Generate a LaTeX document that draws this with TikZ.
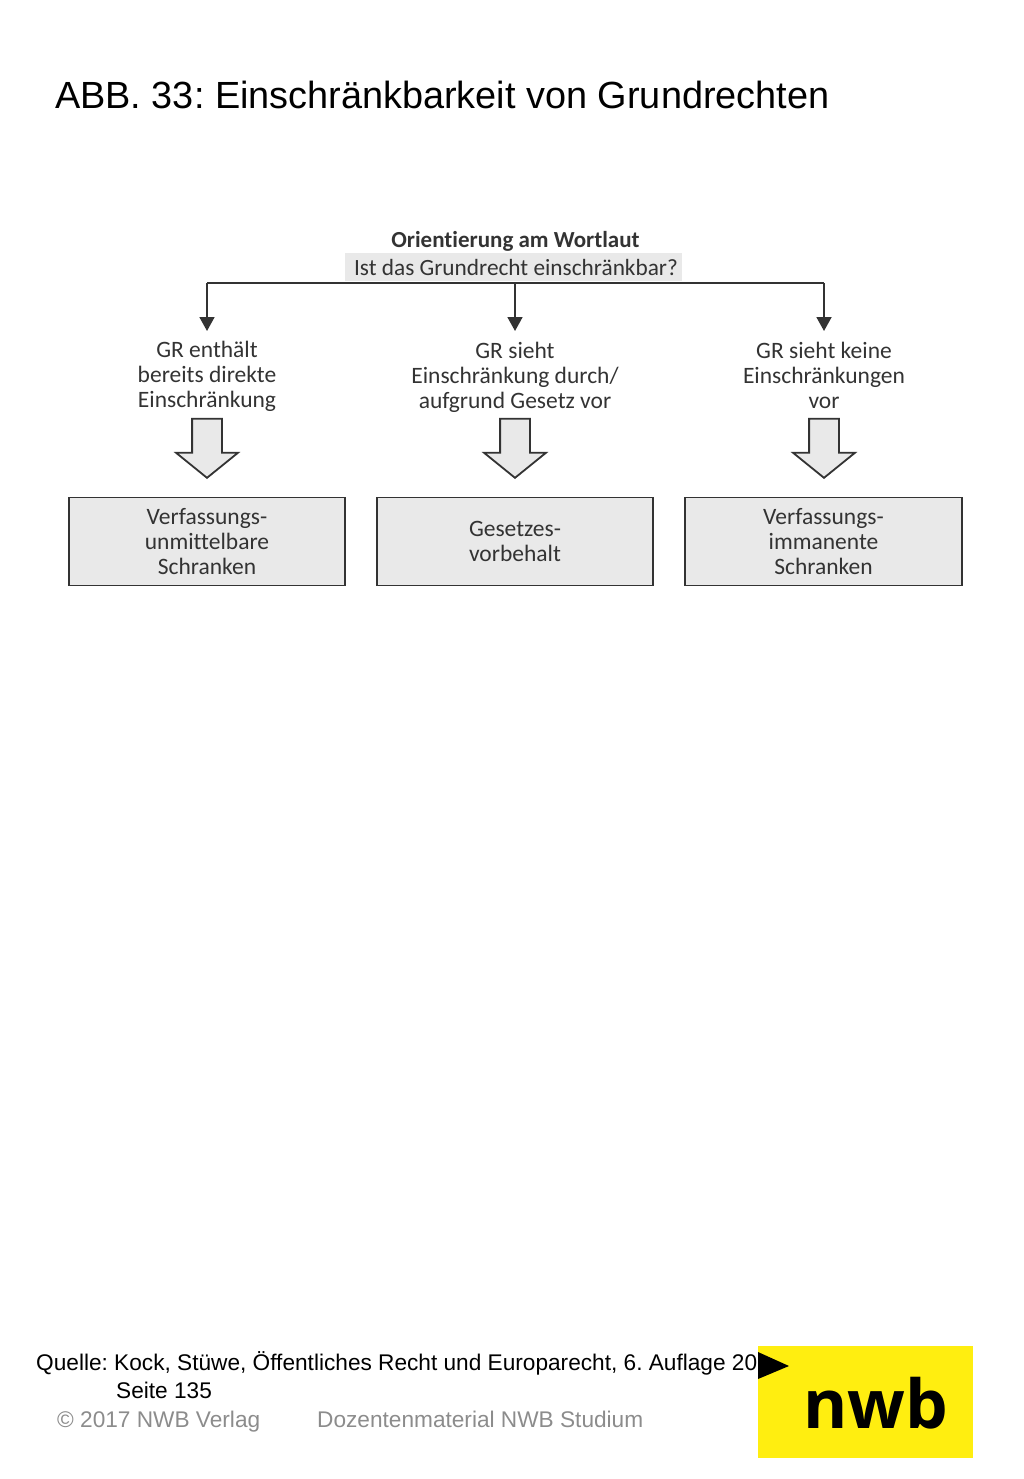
\documentclass[tikz,border=0pt]{standalone}
\usepackage{fontspec}
\setmainfont{Liberation Sans}
\newfontfamily\bookfont[Ligatures=NoCommon]{Carlito}
\newfontfamily\logofont{Open Sans}
\usepackage{xcolor}
\usetikzlibrary{arrows.meta,shapes.arrows}
\definecolor{inkgrey}{HTML}{333333}
\definecolor{boxgrey}{HTML}{E9E9E9}
\definecolor{nwbyellow}{HTML}{FFEE10}
\tikzset{
	plain/.style={anchor=base west,inner sep=0pt,font=\frenchspacing\fontsize{22.65}{27}\selectfont},
	footer/.style={plain,text=black!45},
	outcome/.style={draw=inkgrey,line width=1.8pt,fill=boxgrey,minimum width=276pt,minimum height=88pt,
			inner sep=0pt,align=center,text=inkgrey,font=\bookfont\fontsize{23.5}{25}\selectfont},
	case/.style={inner sep=0pt,align=center,text=inkgrey,font=\bookfont\fontsize{23.5}{25}\selectfont},
	flow/.style={draw=inkgrey,line width=1.8pt},
	blockarrow/.style={single arrow,shape border rotate=270,draw=inkgrey,line width=1.8pt,fill=boxgrey,
			anchor=tip,minimum height=59pt,minimum width=60pt,inner sep=0pt,single arrow head extend=16pt,
			single arrow tip angle=102},
}
\newcommand{\shaftgap}{\phantom{\rule{28pt}{28pt}}}

\begin{document}
\begin{tikzpicture}[x=1pt,y=-1pt]
  \useasboundingbox (0,0) rectangle (1024,1479);

  \node[plain,font=\frenchspacing\fontsize{37.85}{42}\selectfont] (title) at (55,109) {ABB. 33: Einschränkbarkeit von Grundrechten};

  \node[inner sep=0pt,text=inkgrey,font=\bookfont\bfseries\fontsize{23}{25}\selectfont] (head) at (515.5,241) {Orientierung am Wortlaut};
  \node[fill=boxgrey,minimum width=337pt,minimum height=28pt,inner sep=0pt,text=inkgrey,font=\bookfont\fontsize{23.3}{25}\selectfont] (question) at (513,267) {\hspace{6pt}Ist das Grundrecht einschränkbar?};

  \coordinate (j1) at (207,283);
  \coordinate (j2) at (515,283);
  \coordinate (j3) at (824,283);
  \coordinate (a1) at (207,331);
  \coordinate (a2) at (515,331);
  \coordinate (a3) at (824,331);
  \draw[flow] (j1) -- (j3);
  \foreach \i in {1,2,3}
    \draw[flow,-{Triangle[width=15pt,length=14pt]}] (j\i) -- (a\i);

  \node[case] (case1) at (207,376) {GR enthält\\bereits direkte\\Einschränkung};
  \node[case] (case2) at (515,377) {GR sieht\\Einschränkung durch/\\aufgrund Gesetz vor};
  \node[case] (case3) at (824,375) {GR sieht keine\\Einschränkungen\\vor};

  \node[blockarrow] (block1) at (207,479) {\shaftgap};
  \node[blockarrow] (block2) at (515,479) {\shaftgap};
  \node[blockarrow] (block3) at (824,479) {\shaftgap};

  \node[outcome] (box1) at (207,541.5) {Verfassungs-\\unmittelbare\\Schranken};
  \node[outcome] (box2) at (515,541.5) {Gesetzes-\\vorbehalt};
  \node[outcome,minimum width=277pt] (box3) at (823.5,541.5) {Verfassungs-\\immanente\\Schranken};

  \node[plain] (source) at (36,1370) {Quelle: Kock, Stüwe, Öffentliches Recht und Europarecht, 6. Auflage 2016,};
  \node[plain] (page) at (116,1398) {Seite 135};
  \node[footer] (copy) at (57,1427) {© 2017 NWB Verlag};
  \node[footer] (material) at (317,1427) {Dozentenmaterial NWB Studium};

  \fill[nwbyellow] (758,1346) rectangle (973,1458);
  \fill[black] (758,1352) -- (789,1366) -- (758,1379) -- cycle;
  \node[anchor=base,inner sep=0pt,font=\logofont\bfseries\fontsize{67.5}{72}\selectfont] (logo) at (876,1428) {nwb};
\end{tikzpicture}
\end{document}
